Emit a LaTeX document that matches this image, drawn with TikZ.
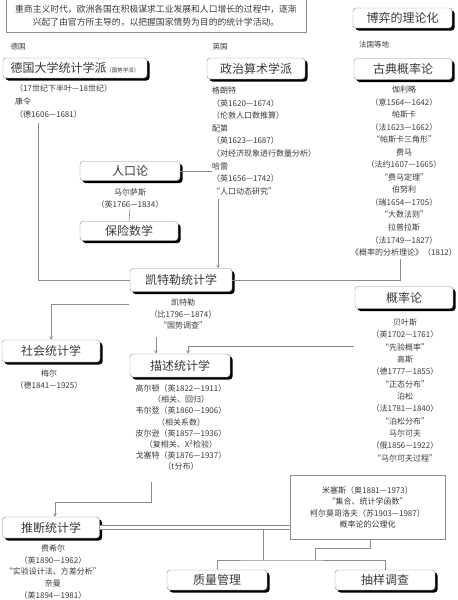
\documentclass[tikz,border=0pt]{standalone}
\usepackage{fontspec}
\setmainfont{Noto Sans CJK SC}
\usetikzlibrary{shadows}
\definecolor{inkgray}{HTML}{3A3A3A}
\definecolor{rulegray}{HTML}{8C8C8C}
\begin{document}
\begin{tikzpicture}[x=1pt,y=-1pt]
\tikzstyle{school}=[draw=rulegray, rounded corners=3pt, fill=white, minimum width=100pt, minimum height=21pt, text=inkgray, font=\fontsize{12}{14}\selectfont, drop shadow={shadow xshift=2.5pt, shadow yshift=-2.5pt, fill=black, opacity=1}]
\tikzstyle{note}=[draw=rulegray, fill=white, text=inkgray, align=center]
\tikzstyle{names}=[text=inkgray, inner sep=0pt, font=\fontsize{8}{12.5}\selectfont]
\tikzstyle{country}=[text=inkgray, inner sep=0pt, font=\fontsize{7.5}{9}\selectfont]
\tikzstyle{line}=[draw=rulegray, line width=0.6pt]
\tikzstyle{arrow}=[draw=rulegray, line width=0.6pt, -stealth]

\useasboundingbox (0,0) rectangle (458,600);

% Define boxes
\node[note, minimum width=300pt, minimum height=33pt, font=\fontsize{8.8}{13}\selectfont] (intro) at (156,15.5) {重商主义时代，欧洲各国在积极谋求工业发展和人口增长的过程中，逐渐\\兴起了由官方所主导的，以把握国家情势为目的的统计学活动。};
\node[school, minimum width=99pt, minimum height=20pt] (game) at (402.5,18) {博弈的理论化};
\node[school, minimum width=144pt, minimum height=20pt] (gdschool) at (75,68) {德国大学统计学派{\fontsize{5.5}{6}\selectfont（国势学派）}};
\node[school, minimum width=98pt] (polarith) at (256,68.5) {政治算术学派};
\node[school, minimum width=98pt] (classprob) at (403,69) {古典概率论};
\node[school, minimum height=19pt] (renkou) at (130,171) {人口论};
\node[school, minimum width=98pt, minimum height=19pt] (insurance) at (129,231) {保险数学};
\node[school, minimum width=102pt, minimum height=23pt] (quetelet) at (181,280) {凯特勒统计学};
\node[school, minimum width=98pt, minimum height=22pt] (prob) at (404,297.5) {概率论};
\node[school, minimum width=98pt, minimum height=22pt] (social) at (51,351) {社会统计学};
\node[school, minimum height=23pt] (desc) at (180,365.5) {描述统计学};
\node[school, minimum width=97pt] (infer) at (51,527.5) {推断统计学};
\node[school, minimum height=20pt] (quality) at (217,580) {质量管理};
\node[school, minimum height=20pt] (sampling) at (385,580) {抽样调查};
\node[note, minimum width=155pt, minimum height=64pt, font=\fontsize{8}{11.5}\selectfont] (mises) at (367.5,507.5) {米塞斯（奥1881—1973）\\“集合、统计学函数”\\柯尔莫哥洛夫（苏1903—1987）\\概率论的公理化};

% Countries
\node[country] (de) at (18,47) {德国};
\node[country] (en) at (220,47) {英国};
\node[country] (fr) at (374,45) {法国等地};

% Names under the boxes
\node[names, anchor=north west, align=left, font=\fontsize{8}{13}\selectfont] (gdtxt) at (15,84) {（17世纪下半叶—18世纪）\\康令\\（德1606—1681）};
\node[names, anchor=north west, align=left, font=\fontsize{8}{12.6}\selectfont] (poltxt) at (212,86.5) {格朗特\\（英1620—1674）\\（伦敦人口数推算）\\配第\\（英1623—1687）\\（对经济现象进行数量分析）\\哈雷\\（英1656—1742）\\“人口动态研究”};
\node[names, anchor=north, align=center, font=\fontsize{8}{12.55}\selectfont] (cptxt) at (404,85.5) {伽利略\\（意1564—1642）\\帕斯卡\\（法1623—1662）\\“帕斯卡三角形”\\费马\\（法约1607—1665）\\“费马定理”\\伯努利\\（瑞1654—1705）\\“大数法则”\\拉普拉斯\\（法1749—1827）\\《概率的分析理论》（1812）};
\node[names, anchor=north, align=center] (malthus) at (130,188.5) {马尔萨斯\\（英1766—1834）};
\node[names, anchor=north, align=center, font=\fontsize{8}{11.7}\selectfont] (quetxt) at (183,298.5) {凯特勒\\（比1796—1874）\\“国势调查”};
\node[names, anchor=north, align=center, font=\fontsize{8}{12.35}\selectfont] (probtxt) at (405,318.5) {贝叶斯\\（英1702—1761）\\“先验概率”\\高斯\\（德1777—1855）\\“正态分布”\\泊松\\（法1781—1840）\\“泊松分布”\\马尔可夫\\（俄1856—1922）\\“马尔可夫过程”};
\node[names, anchor=north, align=center, font=\fontsize{8}{12}\selectfont] (mayr) at (49,369.5) {梅尔\\（德1841—1925）};
\node[names, anchor=north, align=center, font=\fontsize{8}{11.15}\selectfont] (desctxt) at (181,384.5) {高尔顿（英1822—1911）\\（相关、回归）\\韦尔登（英1860—1906）\\（相关系数）\\皮尔逊（英1857—1936）\\（复相关、X\textsuperscript{2}检验）\\戈塞特（英1876—1937）\\（t分布）};
\node[names, anchor=north, align=center, font=\fontsize{8}{11.75}\selectfont] (fishtxt) at (53,544.5) {费希尔\\（英1890—1962）\\“实验设计法、方差分析”\\奈曼\\（美1894—1981）};

% Free ends
\coordinate (gdend) at (38,123);
\coordinate (polend) at (218,199);
\coordinate (cpend) at (400,259);
\coordinate (queleft) at (129,304);
\coordinate (quedown) at (156,337);
\coordinate (probleft) at (354,346);
\coordinate (descend) at (151,482);
\coordinate (split) at (263,529);
\coordinate (misdown) at (370,540);

% Connectors
\draw[line] (gdend) |- (quetelet.west);
\draw[line] (renkou.east) -- (renkou.east -| poltxt.west);
\draw[line] (malthus.south) -- (insurance.north);
\draw[arrow] (polend) -- (polend |- quetelet.north);
\draw[line] (quetelet.east) -| (cpend);
\draw[arrow] (queleft) -| (social.north);
\draw[arrow] (quedown) -- (quedown |- desc.north);
\draw[arrow] (probleft) -| ([xshift=8pt]desc.north);
\draw[arrow] (descend) -- ++(0,20) -| ([xshift=4pt]infer.north);
\draw[line, double, double distance=3pt] (infer.east) -- (infer.east -| mises.west);
\draw[line] (split) -- ++(0,31) coordinate (fork);
\draw[line] (quality.north) |- (fork) -| (sampling.north);
\draw[line] (mises.south -| 315,0) ++(0,9) coordinate (misjoin) -- (fork -| misjoin);
\draw[line] (misjoin) -| (misdown);
\end{tikzpicture}
\end{document}
